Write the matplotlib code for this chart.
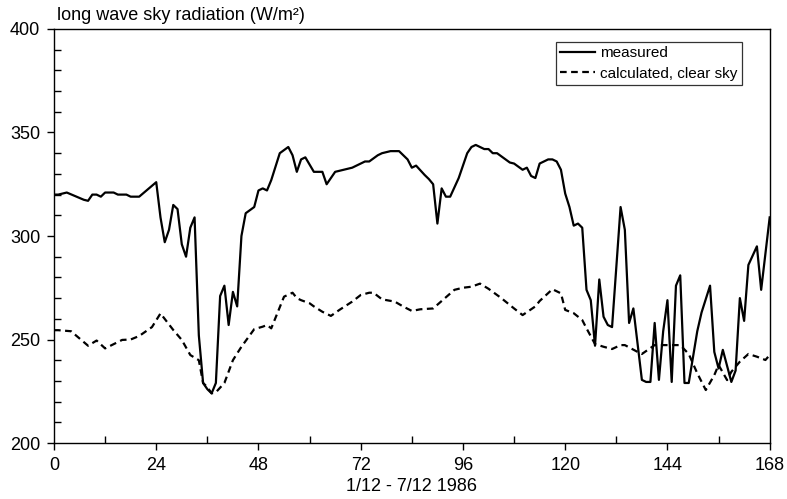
import numpy as np
import matplotlib
matplotlib.use('Agg')
import matplotlib.pyplot as plt
from matplotlib.ticker import MultipleLocator

plt.rcParams['font.family'] = ['Liberation Sans', 'DejaVu Sans']

#--measured long wave sky radiation (hour, W/m2)
meas_h = [0, 1, 3, 7, 8, 9, 10, 11, 12, 14, 15, 17, 18, 20, 24, 25, 26, 27, 28, 29,
          30, 31, 32, 33, 34, 35, 36, 37, 38, 39, 40, 41, 42, 43, 44, 45, 47, 48, 49, 50,
          51, 53, 55, 56, 57, 58, 59, 61, 63, 64, 66, 68, 70, 73, 74, 76, 77, 79, 81, 83,
          84, 85, 87, 88, 89, 90, 91, 92, 93, 95, 97, 98, 99, 101, 102, 103, 104, 107, 108, 109,
          110, 111, 112, 113, 114, 116, 117, 118, 119, 120, 121, 122, 123, 124, 125, 126, 127, 128, 129, 130,
          131, 132, 133, 134, 135, 136, 138, 139, 140, 141, 142, 143, 144, 145, 146, 147, 148, 149, 151, 152,
          154, 155, 156, 157, 159, 160, 161, 162, 163, 165, 166, 168]
meas_v = [320, 320, 321, 317.5, 317, 320, 320, 319, 321, 321, 320, 320, 319, 319, 326, 309, 297, 303, 315, 313,
          296, 290, 304, 309, 252, 229, 226, 224, 229, 271, 276, 257, 273, 266, 300, 311, 314, 322, 323, 322,
          327, 340, 343, 339, 331, 337, 338, 331, 331, 325, 331, 332, 333, 336, 336, 339, 340, 341, 341, 337,
          333, 334, 329.5, 327.5, 325, 306, 323, 319, 319, 328, 340, 343, 344, 342, 342, 340, 340, 335.5, 335, 333.5,
          332, 333, 329, 328, 335, 337, 337, 336, 332, 320.5, 314, 305, 306, 304, 274, 269, 247, 279, 261, 257,
          256, 285, 314, 303, 258, 265, 230.5, 229.5, 229.5, 258, 230.5, 254, 269, 229.5, 276, 281, 229, 229, 254, 263,
          276, 244, 236, 245, 229.5, 235, 270, 259, 286, 295, 274, 309]

#--calculated, clear sky
calc_h = [0, 1, 4, 8, 10, 12, 16, 18, 20, 23, 25, 28, 30, 32, 34, 35, 36, 37, 38, 40,
          42, 43, 44, 47, 49, 50, 51, 54, 56, 57, 58, 60, 61, 63, 65, 67, 70, 72, 74, 75,
          77, 80, 82, 84, 86, 89, 92, 94, 96, 98, 100, 102, 105, 108, 110, 113, 114, 117, 119, 120,
          122, 124, 125, 127, 129, 131, 133, 134, 137, 138, 141, 147, 149, 151, 153, 155, 156, 158, 159, 161,
          163, 165, 167, 168]
calc_v = [254.5, 254.5, 254, 247, 249.5, 245.7, 249.8, 250, 251.7, 256, 262.6, 254.6, 249.8, 242.5, 240, 229, 227, 224, 224.5, 229,
          240, 243.3, 246.5, 255, 256.2, 257, 255.4, 270.7, 272.6, 270, 269, 267.5, 266, 263.4, 261.4, 264.3, 268.3, 271.5, 272.6, 272.6,
          269.4, 268.3, 265.9, 263.8, 264.6, 265, 270.4, 274, 275, 275.5, 277, 274.5, 270, 265, 261.8, 266, 268.6, 274.3, 272.3, 264.3,
          262.7, 259.4, 255.4, 247.8, 246.5, 245.4, 247.3, 247.3, 244, 243, 247.3, 247.3, 243, 233.7, 225.6, 232.8, 237.7, 230.4, 234.4, 239.3,
          243, 241.7, 240.1, 242.5]

fig = plt.figure(figsize=(7.87, 4.99), dpi=100)
ax = fig.add_axes([0.0686, 0.1122, 0.9094, 0.8297])

ax.plot(meas_h, meas_v, color='k', lw=1.6, label='measured')
ax.plot(calc_h, calc_v, color='k', lw=1.6, ls=(0, (3, 2)), label='calculated, clear sky')

ax.set_xlim(0, 168)
ax.set_ylim(200, 400)
ax.xaxis.set_major_locator(MultipleLocator(24))
ax.xaxis.set_minor_locator(MultipleLocator(12))
ax.yaxis.set_major_locator(MultipleLocator(50))
ax.yaxis.set_minor_locator(MultipleLocator(10))
ax.tick_params(axis='both', which='major', direction='out', length=5, width=1, labelsize=13, pad=5)
ax.tick_params(axis='both', which='minor', direction='in', length=5, width=1)
for s in ax.spines.values():
    s.set_linewidth(1)

ax.set_xlabel('1/12 - 7/12 1986', fontsize=13, labelpad=3)
ax.text(0.004, 1.012, 'long wave sky radiation (W/m²)', transform=ax.transAxes,
        fontsize=13, ha='left', va='bottom')

leg = ax.legend(loc='upper right', bbox_to_anchor=(0.961, 0.969), fontsize=11,
                frameon=True, fancybox=False, handlelength=2.3, handletextpad=0.3,
                borderpad=0.3, labelspacing=0.4, borderaxespad=0)
leg.get_frame().set_edgecolor('k')
leg.get_frame().set_linewidth(0.9)

fig.savefig('out.png', dpi=100)
